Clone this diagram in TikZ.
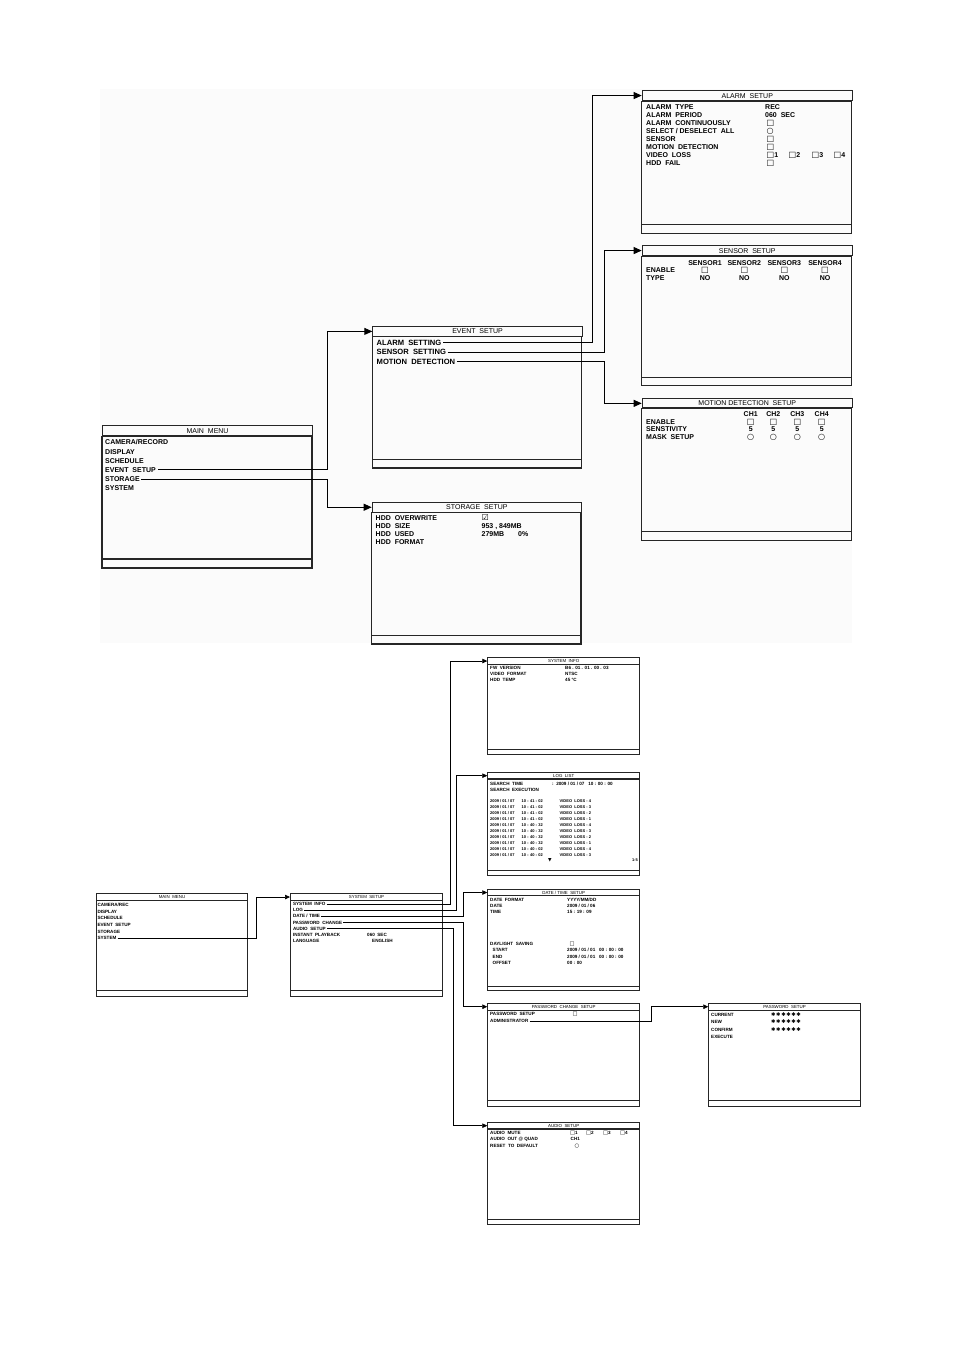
\documentclass[tikz,border=0pt]{standalone}
\usepackage{fontspec}
\setmainfont{Liberation Sans}
\newfontfamily\symf[Scale=1.15]{DejaVu Sans}
\usetikzlibrary{arrows.meta}
\newcommand{\chkbox}{{\symf □}}
\newcommand{\rndbox}{{\symf ○}}
\newcommand{\tickbox}{{\symf ☑}}
\newcommand{\downtri}{{\symf ▼}}
\newcommand{\pwstars}{{\symf ✱\kern0.6pt✱\kern0.6pt✱\kern0.6pt✱\kern0.6pt✱\kern0.6pt✱}}
\tikzset{
  screen/.style={draw=black!85,line width=1.1pt},
  sscreen/.style={draw=black!85,line width=0.75pt},
  ttl/.style={screen,inner sep=0pt,anchor=north west,font=\fontsize{7}{8}\selectfont,text height=5pt,text depth=0pt},
  sttl/.style={sscreen,inner sep=0pt,anchor=north west,font=\fontsize{4.4}{5}\selectfont,text height=3.1pt,text depth=0pt},
  itm/.style={anchor=west,inner xsep=1.5pt,inner ysep=0pt,font=\fontsize{7}{8}\selectfont\bfseries,text height=5pt,text depth=0pt},
  sitm/.style={anchor=west,inner xsep=1pt,inner ysep=0pt,font=\fontsize{4.6}{5}\selectfont\bfseries,text height=3.3pt,text depth=0pt},
  litm/.style={sitm,font=\fontsize{4}{5}\selectfont\bfseries,text height=2.9pt},
  link/.style={-{Triangle[length=8pt,width=7pt]},line width=0.9pt},
  slink/.style={-{Triangle[length=5pt,width=4.5pt]},line width=0.7pt}
}
\begin{document}
\begin{tikzpicture}[x=1pt,y=-1pt]
\useasboundingbox (0,0) rectangle (954,1350);
\fill[white] (0,0) rectangle (954,1350);
% upper half: event and storage
\fill[black!1.5] (100,89) rectangle (852,643);

\node[ttl,minimum width=210pt,minimum height=10pt] (mmT) at (102,425) {MAIN\ \ MENU};
\draw[screen] (mmT.south west) rectangle (312,568);
\draw[screen] (102,559) -- (312,559);
\node[itm] (mmCam) at (103.5,442.3) {CAMERA/RECORD};
\node[itm] (mmDis) at (103.5,451.5) {DISPLAY};
\node[itm] (mmSch) at (103.5,460.7) {SCHEDULE};
\node[itm,inner xsep=2.5pt] (mmEvt) at (102.5,469.9) {EVENT\ \ SETUP};
\node[itm] (mmSto) at (103.5,479.1) {STORAGE};
\node[itm] (mmSys) at (103.5,488.3) {SYSTEM};

\node[ttl,minimum width=209.4pt,minimum height=9.7pt] (evT) at (372.3,326) {EVENT\ \ SETUP};
\draw[screen] (evT.south west) rectangle (581.7,468);
\draw[screen] (372.3,459.3) -- (581.7,459.3);
\node[itm,font=\fontsize{7.6}{8}\selectfont\bfseries] (evAlm) at (375,342.7) {ALARM\ \ SETTING};
\node[itm,font=\fontsize{7.6}{8}\selectfont\bfseries] (evSen) at (375,352) {SENSOR\ \ SETTING};
\node[itm,font=\fontsize{7.6}{8}\selectfont\bfseries] (evMot) at (375,361.7) {MOTION\ \ DETECTION};

\node[ttl,minimum width=209.3pt,minimum height=10pt] (stT) at (371.7,501.7) {STORAGE\ \ SETUP};
\draw[screen] (stT.south west) rectangle (581,644);
\draw[screen] (371.7,635.7) -- (581,635.7);
\node[itm] (stOvr) at (374,517.7) {HDD\ \ OVERWRITE};
\node[itm] (stSiz) at (374,525.9) {HDD\ \ SIZE};
\node[itm] (stUse) at (374,534.1) {HDD\ \ USED};
\node[itm] (stFmt) at (374,542.3) {HDD\ \ FORMAT};
\node[itm] (stOvrV) at (480,517.7) {\tickbox};
\node[itm] (stSizV) at (480,525.9) {953 , 849MB};
\node[itm] (stUseV) at (480,534.1) {279MB};
\node[itm] (stPct) at (516.5,534.1) {0\%};

\node[ttl,minimum width=210pt,minimum height=10pt] (alT) at (641.7,90) {ALARM\ \ SETUP};
\draw[screen] (alT.south west) rectangle (851.7,233.3);
\draw[screen] (641.7,224.3) -- (851.7,224.3);
\node[itm] (alTyp) at (644.5,106.5) {ALARM\ \ TYPE};
\node[itm] (alPer) at (644.5,114.6) {ALARM\ \ PERIOD};
\node[itm] (alCon) at (644.5,122.7) {ALARM\ \ CONTINUOUSLY};
\node[itm] (alSel) at (644.5,130.8) {SELECT / DESELECT\ \ ALL};
\node[itm] (alSen) at (644.5,138.9) {SENSOR};
\node[itm] (alMot) at (644.5,147) {MOTION\ \ DETECTION};
\node[itm] (alVid) at (644.5,155.1) {VIDEO\ \ LOSS};
\node[itm] (alHdd) at (644.5,163.2) {HDD\ \ FAIL};
\node[itm] (alTypV) at (763.5,106.5) {REC};
\node[itm] (alPerV) at (763.5,114.6) {060\ \ SEC};
\node[itm] (alConV) at (765,122.7) {\chkbox};
\node[itm] (alSelV) at (765,130.8) {\rndbox};
\node[itm] (alSenV) at (765,138.9) {\chkbox};
\node[itm] (alMotV) at (765,147) {\chkbox};
\node[itm] (alVid1) at (765,155.1) {\chkbox1};
\node[itm] (alVid2) at (787,155.1) {\chkbox2};
\node[itm] (alVid3) at (810,155.1) {\chkbox3};
\node[itm] (alVid4) at (832,155.1) {\chkbox4};
\node[itm] (alHddV) at (765,163.2) {\chkbox};

\node[ttl,minimum width=210pt,minimum height=10pt] (snT) at (641.7,245) {SENSOR\ \ SETUP};
\draw[screen] (snT.south west) rectangle (851.7,385.7);
\draw[screen] (641.7,377.3) -- (851.7,377.3);
\node[itm] (snEn) at (644.5,270) {ENABLE};
\node[itm] (snTy) at (644.5,277.7) {TYPE};
\node[itm,anchor=center] (snH1) at (705,263.3) {SENSOR1};
\node[itm,anchor=center] (snH2) at (744.3,263.3) {SENSOR2};
\node[itm,anchor=center] (snH3) at (784.3,263.3) {SENSOR3};
\node[itm,anchor=center] (snH4) at (825,263.3) {SENSOR4};
\node[itm,anchor=center] (snB1) at (705,270) {\chkbox};
\node[itm,anchor=center] (snB2) at (744.3,270) {\chkbox};
\node[itm,anchor=center] (snB3) at (784.3,270) {\chkbox};
\node[itm,anchor=center] (snB4) at (825,270) {\chkbox};
\node[itm,anchor=center] (snN1) at (705,277.7) {NO};
\node[itm,anchor=center] (snN2) at (744.3,277.7) {NO};
\node[itm,anchor=center] (snN3) at (784.3,277.7) {NO};
\node[itm,anchor=center] (snN4) at (825,277.7) {NO};

\node[ttl,minimum width=210pt,minimum height=9pt] (mdT) at (641.7,398.3) {MOTION\ DETECTION\ \ SETUP};
\draw[screen] (mdT.south west) rectangle (851.7,540.7);
\draw[screen] (641.7,531.7) -- (851.7,531.7);
\node[itm] (mdEn) at (644.5,422.3) {ENABLE};
\node[itm] (mdSe) at (644.5,429.3) {SENSTIVITY};
\node[itm] (mdMa) at (644.5,436.7) {MASK\ \ SETUP};
\node[itm,anchor=center] (mdH1) at (750.7,414) {CH1};
\node[itm,anchor=center] (mdH2) at (773.3,414) {CH2};
\node[itm,anchor=center] (mdH3) at (797.3,414) {CH3};
\node[itm,anchor=center] (mdH4) at (821.7,414) {CH4};
\node[itm,anchor=center] (mdB1) at (750.7,422.3) {\chkbox};
\node[itm,anchor=center] (mdB2) at (773.3,422.3) {\chkbox};
\node[itm,anchor=center] (mdB3) at (797.3,422.3) {\chkbox};
\node[itm,anchor=center] (mdB4) at (821.7,422.3) {\chkbox};
\node[itm,anchor=center] (mdS1) at (750.7,429.3) {5};
\node[itm,anchor=center] (mdS2) at (773.3,429.3) {5};
\node[itm,anchor=center] (mdS3) at (797.3,429.3) {5};
\node[itm,anchor=center] (mdS4) at (821.7,429.3) {5};
\node[itm,anchor=center] (mdM1) at (750.7,436.7) {\rndbox};
\node[itm,anchor=center] (mdM2) at (773.3,436.7) {\rndbox};
\node[itm,anchor=center] (mdM3) at (797.3,436.7) {\rndbox};
\node[itm,anchor=center] (mdM4) at (821.7,436.7) {\rndbox};

\coordinate (colA) at (327.3,0);
\coordinate (colB) at (592.7,0);
\coordinate (colC) at (604,0);
\draw[link] (mmEvt.east) -- (mmEvt.east -| colA) |- (evT.west);
\draw[link] (mmSto.east) -- (mmSto.east -| colA) |- (stT.west);
\draw[link] (evAlm.east) -- (evAlm.east -| colB) |- (alT.west);
\draw[link] (evSen.east) -- (evSen.east -| colC) |- (snT.west);
\draw[link] (evMot.east) -- (evMot.east -| colC) |- (mdT.west);

% lower half: system
\node[sttl,minimum width=151.3pt,minimum height=6.7pt] (smT) at (96,893.3) {MAIN\ \ MENU};
\draw[sscreen] (smT.south west) rectangle (247.3,996.7);
\draw[sscreen] (96,990) -- (247.3,990);
\node[sitm] (smCam) at (96.3,905) {CAMERA/REC};
\node[sitm] (smDis) at (96.3,911.6) {DISPLAY};
\node[sitm] (smSch) at (96.3,918.2) {SCHEDULE};
\node[sitm] (smEvt) at (96.3,924.8) {EVENT\ \ SETUP};
\node[sitm] (smSto) at (96.3,931.4) {STORAGE};
\node[sitm] (smSys) at (96.3,938) {SYSTEM};

\node[sttl,minimum width=152.3pt,minimum height=6.7pt] (ssT) at (290,893.3) {SYSTEM\ \ SETUP};
\draw[sscreen] (ssT.south west) rectangle (442.3,996.7);
\draw[sscreen] (290,990) -- (442.3,990);
\node[sitm] (ssInf) at (291.8,904) {SYSTEM\ \ INFO};
\node[sitm] (ssLog) at (291.8,910.1) {LOG};
\node[sitm] (ssDat) at (291.8,916.3) {DATE / TIME};
\node[sitm] (ssPwd) at (291.8,922.5) {PASSWORD\ \ CHANGE};
\node[sitm] (ssAud) at (291.8,928.7) {AUDIO\ \ SETUP};
\node[sitm] (ssIns) at (291.8,934.9) {INSTANT\ \ PLAYBACK};
\node[sitm] (ssLan) at (291.8,941) {LANGUAGE};
\node[sitm] (ssInsV) at (366,934.9) {060\ \ SEC};
\node[sitm] (ssLanV) at (371,941) {ENGLISH};

\node[sttl,minimum width=152pt,minimum height=6.7pt] (siT) at (487.3,657.3) {SYSTEM\ \ INFO};
\draw[sscreen] (siT.south west) rectangle (639.3,754);
\draw[sscreen] (487.3,749.3) -- (639.3,749.3);
\node[sitm] (siFw) at (489,668.3) {FW\ \ VERSION};
\node[sitm] (siVf) at (489,674.3) {VIDEO\ \ FORMAT};
\node[sitm] (siHt) at (489,680.3) {HDD\ \ TEMP};
\node[sitm] (siFwV) at (564,668.3) {B6 . 01 . 01 . 00 . 03};
\node[sitm] (siVfV) at (564,674.3) {NTSC};
\node[sitm] (siHtV) at (564,680.3) {45 °C};

\node[sttl,minimum width=152pt,minimum height=6pt] (llT) at (487.3,772.3) {LOG\ \ LIST};
\draw[sscreen] (llT.south west) rectangle (639.3,875);
\draw[sscreen] (487.3,870) -- (639.3,870);
\node[sitm] (llSt) at (489,783.5) {SEARCH\ \ TIME};
\node[sitm] (llSe) at (489,789.5) {SEARCH\ \ EXECUTION};
\node[sitm] (llStV) at (551,783.5) {:\ \ 2009 / 01 / 07\ \ \ 10 : 00 : 00};
\node[litm] (lg1) at (489,800.7) {\makebox[31.5pt][l]{2009 / 01 / 07}\makebox[38pt][l]{10 : 41 : 02}VIDEO\ \ LOSS - 4};
\node[litm] (lg2) at (489,806.7) {\makebox[31.5pt][l]{2009 / 01 / 07}\makebox[38pt][l]{10 : 41 : 02}VIDEO\ \ LOSS - 3};
\node[litm] (lg3) at (489,812.7) {\makebox[31.5pt][l]{2009 / 01 / 07}\makebox[38pt][l]{10 : 41 : 02}VIDEO\ \ LOSS - 2};
\node[litm] (lg4) at (489,818.7) {\makebox[31.5pt][l]{2009 / 01 / 07}\makebox[38pt][l]{10 : 41 : 02}VIDEO\ \ LOSS - 1};
\node[litm] (lg5) at (489,824.7) {\makebox[31.5pt][l]{2009 / 01 / 07}\makebox[38pt][l]{10 : 40 : 32}VIDEO\ \ LOSS - 4};
\node[litm] (lg6) at (489,830.7) {\makebox[31.5pt][l]{2009 / 01 / 07}\makebox[38pt][l]{10 : 40 : 32}VIDEO\ \ LOSS - 3};
\node[litm] (lg7) at (489,836.7) {\makebox[31.5pt][l]{2009 / 01 / 07}\makebox[38pt][l]{10 : 40 : 32}VIDEO\ \ LOSS - 2};
\node[litm] (lg8) at (489,842.7) {\makebox[31.5pt][l]{2009 / 01 / 07}\makebox[38pt][l]{10 : 40 : 32}VIDEO\ \ LOSS - 1};
\node[litm] (lg9) at (489,848.7) {\makebox[31.5pt][l]{2009 / 01 / 07}\makebox[38pt][l]{10 : 40 : 02}VIDEO\ \ LOSS - 4};
\node[litm] (lg10) at (489,854.7) {\makebox[31.5pt][l]{2009 / 01 / 07}\makebox[38pt][l]{10 : 40 : 02}VIDEO\ \ LOSS - 3};
\node[litm,anchor=center] (llDn) at (550,860.5) {\downtri};
\node[litm,anchor=east] (llPg) at (639,860.5) {1-5};

\node[sttl,minimum width=152pt,minimum height=5.7pt] (dtT) at (487.3,889.3) {DATE / TIME\ \ SETUP};
\draw[sscreen] (dtT.south west) rectangle (639.3,990.7);
\draw[sscreen] (487.3,986) -- (639.3,986);
\node[sitm] (dtFm) at (489,900) {DATE\ \ FORMAT};
\node[sitm] (dtDa) at (489,906) {DATE};
\node[sitm] (dtTi) at (489,911.7) {TIME};
\node[sitm] (dtDs) at (489,944) {DAYLIGHT\ \ SAVING};
\node[sitm] (dtSt) at (491.5,950.3) {START};
\node[sitm] (dtEn) at (491.5,956.5) {END};
\node[sitm] (dtOf) at (491.5,962.7) {OFFSET};
\node[sitm] (dtFmV) at (566,900) {YYYY/MM/DD};
\node[sitm] (dtDaV) at (566,906) {2009 / 01 / 06};
\node[sitm] (dtTiV) at (566,911.7) {15 : 19 : 09};
\node[sitm] (dtDsV) at (568.5,944) {\chkbox};
\node[sitm] (dtStV) at (566,950.3) {2009 / 01 / 01\ \ \ 00 : 00 : 00};
\node[sitm] (dtEnV) at (566,956.5) {2009 / 01 / 01\ \ \ 00 : 00 : 00};
\node[sitm] (dtOfV) at (566,962.7) {00 : 00};

\node[sttl,minimum width=152pt,minimum height=6.7pt] (pcT) at (487.3,1003) {PASSWORD\ \ CHANGE\ \ SETUP};
\draw[sscreen] (pcT.south west) rectangle (639.3,1106.3);
\draw[sscreen] (487.3,1100.7) -- (639.3,1100.7);
\node[sitm] (pcSet) at (489,1014.3) {PASSWORD\ \ SETUP};
\node[sitm] (pcAdm) at (489,1021.3) {ADMINISTRATOR};
\node[sitm] (pcSetV) at (571.5,1014.3) {\chkbox};

\node[sttl,minimum width=151.7pt,minimum height=6.7pt] (psT) at (708.3,1003) {PASSWORD\ \ SETUP};
\draw[sscreen] (psT.south west) rectangle (860,1106.3);
\draw[sscreen] (708.3,1100.7) -- (860,1100.7);
\node[sitm] (psCur) at (710,1014.7) {CURRENT};
\node[sitm] (psNew) at (710,1022) {NEW};
\node[sitm] (psCon) at (710,1029.5) {CONFIRM};
\node[sitm] (psExe) at (710,1037) {EXECUTE};
\node[sitm] (psCurV) at (770,1014.7) {\pwstars};
\node[sitm] (psNewV) at (770,1022) {\pwstars};
\node[sitm] (psConV) at (770,1029.5) {\pwstars};

\node[sttl,minimum width=152pt,minimum height=6pt] (auT) at (487.3,1122.3) {AUDIO\ \ SETUP};
\draw[sscreen] (auT.south west) rectangle (639.3,1224.3);
\draw[sscreen] (487.3,1219) -- (639.3,1219);
\node[sitm] (auMu) at (489,1132.7) {AUDIO\ \ MUTE};
\node[sitm] (auOu) at (489,1139) {AUDIO\ \ OUT\ @\ QUAD};
\node[sitm] (auRe) at (489,1146) {RESET\ \ TO\ \ DEFAULT};
\node[sitm] (auM1) at (569,1132.7) {\chkbox1};
\node[sitm] (auM2) at (585,1132.7) {\chkbox2};
\node[sitm] (auM3) at (602,1132.7) {\chkbox3};
\node[sitm] (auM4) at (619,1132.7) {\chkbox4};
\node[sitm] (auOuV) at (569.5,1139) {CH1};
\node[sitm] (auReV) at (573.5,1146) {\rndbox};

\coordinate (colD) at (256,0);
\coordinate (colE) at (450,0);
\coordinate (colF) at (456.7,0);
\coordinate (colG) at (463.5,0);
\coordinate (colH) at (453.3,0);
\coordinate (colI) at (651.7,0);
\draw[slink] (smSys.east) -- (smSys.east -| colD) |- (ssT.west);
\draw[slink] (ssInf.east) -- (ssInf.east -| colE) |- (siT.west);
\draw[slink] (ssLog.east) -- (ssLog.east -| colF) |- (llT.west);
\draw[slink] (ssDat.east) -- (ssDat.east -| colG) |- (dtT.west);
\draw[slink] (ssPwd.east) -- (ssPwd.east -| colG) |- (pcT.west);
\draw[slink] (ssAud.east) -- (ssAud.east -| colH) |- (auT.west);
\draw[slink] (pcAdm.east) -- (pcAdm.east -| colI) |- (psT.west);
\end{tikzpicture}
\end{document}
